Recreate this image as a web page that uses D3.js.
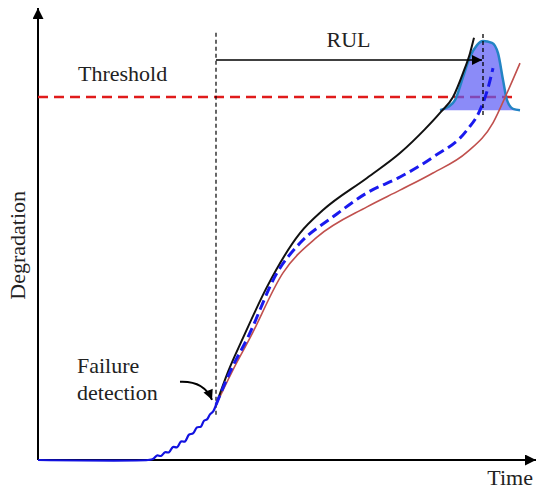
<!DOCTYPE html>
<html><head><meta charset="utf-8">
<script src="https://cdn.jsdelivr.net/npm/d3@7"></script>
<style>html,body{margin:0;padding:0;background:#fff;}svg{display:block;}</style>
</head><body><svg id="c" width="536" height="490"></svg>
<script>
// ---- data (time 0..100, degradation 0..100) ----
const thresholdLevel = 80.3;
const detectionTime = 35.6;
const eolTime = 89.0;
const rulLevel = 88.5;

const historyTime = [0, 22.0, 23.0, 23.8, 24.6, 25.4, 26.2, 27.0, 27.8, 28.6, 29.4, 30.2, 31.0, 31.8, 32.6, 33.2, 33.8, 34.4, 35.0, 35.6];
const historyDeg  = [0, 0, 0.2, 1.0, 0.9, 1.7, 1.7, 2.9, 2.8, 4.1, 4.1, 5.6, 5.9, 7.2, 7.4, 8.7, 9.0, 10.1, 10.7, 12.2];

const upperTime = [35.6, 38.0, 41.0, 45.8, 52.4, 57.0, 65.8, 72.4, 77.4, 80.4, 83.0, 85.0, 86.4, 87.2];
const upperDeg  = [12.2, 19.5, 27.0, 38.3, 50.2, 55.3, 62.4, 67.9, 73.2, 76.8, 80.3, 85.6, 90.0, 93.4];

const meanTime = [35.6, 38.4, 42.0, 47.8, 52.4, 59.0, 65.8, 72.4, 79.0, 85.8, 88.4, 90.0, 91.0];
const meanDeg  = [12.2, 19.5, 27.2, 41.4, 48.0, 53.8, 59.1, 62.6, 67.0, 73.0, 77.4, 82.3, 86.7];

const lowerTime = [35.6, 38.8, 42.4, 49.0, 55.8, 65.8, 72.4, 79.0, 85.8, 91.0, 93.8, 96.4];
const lowerDeg  = [12.2, 19.5, 27.0, 41.4, 49.3, 56.0, 59.7, 63.5, 68.1, 74.6, 81.2, 87.8];

const pdfBase = 77.4;
const pdfTime = [80.4, 82.0, 83.4, 85.0, 86.4, 87.8, 89.0, 90.8, 92.0, 93.0, 93.8, 95.0, 96.4];
const pdfDeg  = [77.4, 78.1, 79.6, 84.7, 89.2, 91.8, 92.7, 92.3, 90.0, 84.1, 79.6, 77.7, 77.4];

const labels = {threshold: "Threshold", rul: "RUL", fail1: "Failure", fail2: "detection", yTitle: "Degradation", xTitle: "Time"};

// ---- drawing ----
const svg = d3.select("#c");
const x = d3.scaleLinear().domain([0, 100]).range([38, 538]);
const y = d3.scaleLinear().domain([0, 100]).range([460, 8]);
const zip = (a, b) => a.map((v, i) => [v, b[i]]);
const line = d3.line().x(d => x(d[0])).y(d => y(d[1])).curve(d3.curveMonotoneX);
const font = "'Liberation Serif','Times New Roman',serif";

const defs = svg.append("defs");
function marker(id, w, h) {
  defs.append("marker").attr("id", id).attr("viewBox", "0 0 10 10").attr("refX", 10).attr("refY", 5)
    .attr("markerWidth", w).attr("markerHeight", h).attr("markerUnits", "userSpaceOnUse").attr("orient", "auto")
    .append("path").attr("d", "M0,0 L10,5 L0,10 Z").attr("fill", "#000");
}
marker("ax", 13, 11);
marker("rul", 14, 10);
marker("fd", 11, 10);

// axes
svg.append("line").attr("x1", x(0)).attr("y1", y(0)).attr("x2", x(99.6)).attr("y2", y(0))
  .attr("stroke", "#000").attr("stroke-width", 2).attr("marker-end", "url(#ax)");
svg.append("line").attr("x1", x(0)).attr("y1", y(0)).attr("x2", x(0)).attr("y2", y(100))
  .attr("stroke", "#000").attr("stroke-width", 2).attr("marker-end", "url(#ax)");

// threshold
svg.append("line").attr("x1", x(0)).attr("x2", x(96)).attr("y1", y(thresholdLevel)).attr("y2", y(thresholdLevel))
  .attr("stroke", "#e01b1b").attr("stroke-width", 2.5).attr("stroke-dasharray", "10,6");

// pdf
const pdfPts = zip(pdfTime, pdfDeg);
svg.append("path").attr("d", d3.area().x(d => x(d[0])).y0(y(pdfBase)).y1(d => y(d[1])).curve(d3.curveMonotoneX)(pdfPts))
  .attr("fill", "rgb(90,90,245)").attr("fill-opacity", 0.7);
svg.append("path").attr("d", line(pdfPts)).attr("fill", "none").attr("stroke", "#2384c4").attr("stroke-width", 2.5);

// detection vertical
svg.append("line").attr("x1", x(detectionTime)).attr("x2", x(detectionTime)).attr("y1", y(10)).attr("y2", y(95.1))
  .attr("stroke", "#000").attr("stroke-width", 1.2).attr("stroke-dasharray", "4,3");

// curves
svg.append("path").attr("d", line(zip(lowerTime, lowerDeg))).attr("fill", "none").attr("stroke", "#c0504d").attr("stroke-width", 1.6);
svg.append("path").attr("d", line(zip(upperTime, upperDeg))).attr("fill", "none").attr("stroke", "#111").attr("stroke-width", 2);
svg.append("path").attr("d", line(zip(meanTime, meanDeg))).attr("fill", "none").attr("stroke", "#1a1aee").attr("stroke-width", 3).attr("stroke-dasharray", "10,5");
svg.append("path").attr("d", d3.line().x(d => x(d[0])).y(d => y(d[1])).curve(d3.curveCatmullRom)(zip(historyTime, historyDeg)))
  .attr("fill", "none").attr("stroke", "#1212e0").attr("stroke-width", 2.2);

// EOL vertical
svg.append("line").attr("x1", x(eolTime)).attr("x2", x(eolTime)).attr("y1", y(76.3)).attr("y2", y(94.7))
  .attr("stroke", "#000").attr("stroke-width", 1.3).attr("stroke-dasharray", "4,3");

// RUL arrow
svg.append("line").attr("x1", x(detectionTime)).attr("x2", x(eolTime) - 1).attr("y1", y(rulLevel)).attr("y2", y(rulLevel))
  .attr("stroke", "#000").attr("stroke-width", 1.6).attr("marker-end", "url(#rul)");

// failure detection arrow
const dx = x(detectionTime), dy = y(12.2);
svg.append("path").attr("d", `M${dx - 36},${dy - 23} Q${dx - 12},${dy - 24} ${dx - 4},${dy - 5}`)
  .attr("fill", "none").attr("stroke", "#000").attr("stroke-width", 2).attr("marker-end", "url(#fd)");

// texts
const t = (s, px, py, anchor) => svg.append("text").attr("x", px).attr("y", py).attr("text-anchor", anchor || "start")
  .attr("font-family", font).attr("font-size", 22).attr("fill", "#222").text(s);
t(labels.threshold, x(8), y(83.8));
t(labels.rul, (x(detectionTime) + x(eolTime)) / 2 - 1, y(91.4), "middle");
t(labels.fail1, x(7.8), y(19.3));
t(labels.fail2, x(7.8), y(13.3));
t(labels.xTitle, 533, 485, "end");
svg.append("text").attr("transform", `translate(25,${y(47.5)}) rotate(-90)`).attr("text-anchor", "middle")
  .attr("font-family", font).attr("font-size", 22).attr("fill", "#222").text(labels.yTitle);
</script></body></html>
